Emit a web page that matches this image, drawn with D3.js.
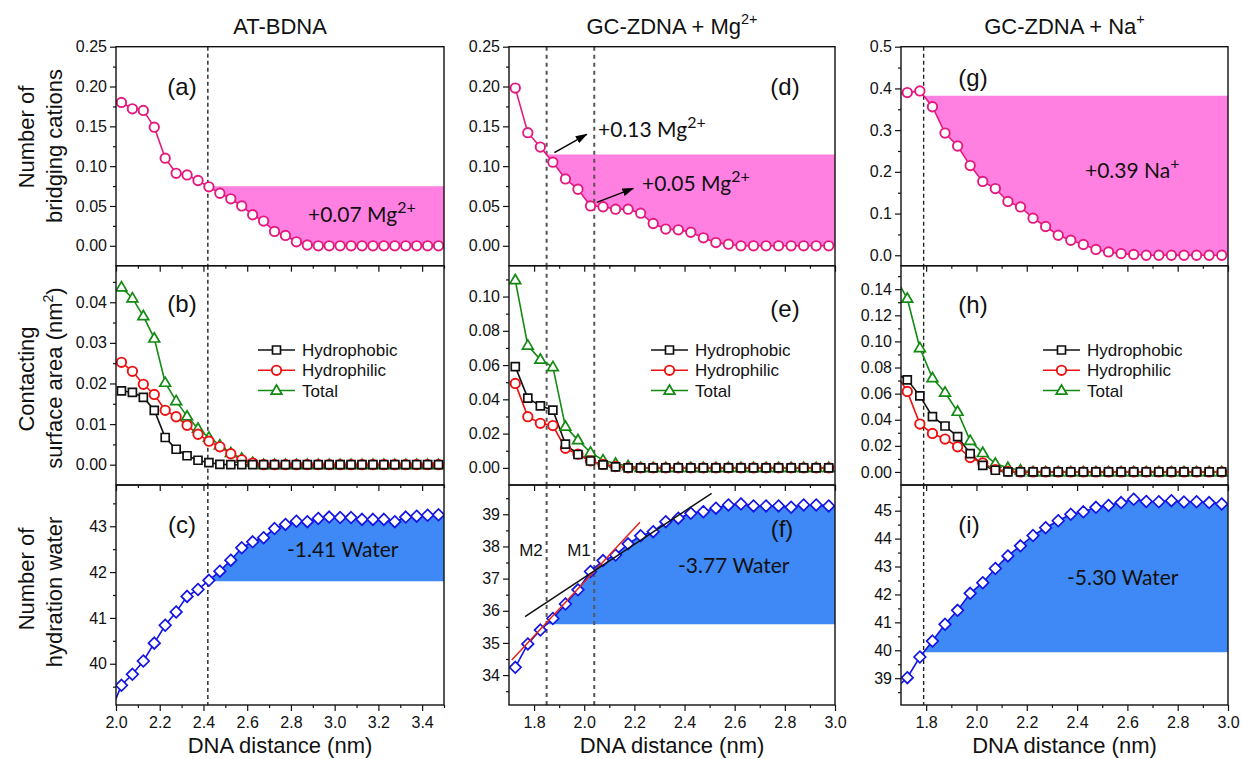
<!DOCTYPE html>
<html>
<head>
<meta charset="utf-8">
<script src="https://cdn.jsdelivr.net/npm/d3@7"></script>
<style>
  body { margin: 0; background: #fff; }
  svg text { font-family: "Liberation Sans", Arial, sans-serif; fill: #111; }
  .note { font-family: Lato, "Liberation Sans", sans-serif; }
</style>
</head>
<body>
<script>
//----------------------------------------------------------------------------------------------------------------------
// DATA. First entry of each x list sits just left of the frame and gets clipped.
//----------------------------------------------------------------------------------------------------------------------

var distAT = [1.975, 2.025, 2.075, 2.125, 2.175, 2.225, 2.275, 2.325, 2.375, 2.425, 2.475, 2.525, 2.575, 2.625,
  2.675, 2.725, 2.775, 2.825, 2.875, 2.925, 2.975, 3.025, 3.075, 3.125, 3.175, 3.225, 3.275, 3.325, 3.375, 3.425, 3.475];
var distGC = [1.675, 1.725, 1.775, 1.825, 1.875, 1.925, 1.975, 2.025, 2.075, 2.125, 2.175, 2.225, 2.275, 2.325,
  2.375, 2.425, 2.475, 2.525, 2.575, 2.625, 2.675, 2.725, 2.775, 2.825, 2.875, 2.925, 2.975];

// AT-BDNA
var bridgeAT = [0.184, 0.180, 0.172, 0.170, 0.149, 0.110, 0.091, 0.089, 0.082, 0.074, 0.066, 0.059, 0.050, 0.039,
  0.031, 0.018, 0.013, 0.005, 0.001, 0, 0, 0, 0, 0, 0, 0, 0, 0, 0, 0, 0];
var phobicAT = [null, 0.0182, 0.0178, 0.0166, 0.0134, 0.0067, 0.0038, 0.0022, 0.0011, 0.0005, 0.0001, 0, 0, 0, 0,
  0, 0, 0, 0, 0, 0, 0, 0, 0, 0, 0, 0, 0, 0, 0, 0];
var philicAT = [null, 0.0252, 0.0230, 0.0198, 0.0173, 0.0134, 0.0118, 0.0097, 0.0075, 0.0058, 0.0044, 0.0027, 0.0012,
  0.0004, 0, 0, 0, 0, 0, 0, 0, 0, 0, 0, 0, 0, 0, 0, 0, 0, 0];
var totalAT = [null, 0.0437, 0.0410, 0.0366, 0.0311, 0.0202, 0.0157, 0.0119, 0.0089, 0.0067, 0.0048, 0.0029, 0.0015,
  0.0005, 0, 0, 0, 0, 0, 0, 0, 0, 0, 0, 0, 0, 0, 0, 0, 0, 0];
var waterAT = [38.95, 39.53, 39.77, 40.06, 40.45, 40.84, 41.13, 41.47, 41.62, 41.82, 42.02, 42.26, 42.53, 42.66, 42.75,
  42.95, 43.04, 43.11, 43.10, 43.17, 43.20, 43.19, 43.19, 43.15, 43.15, 43.15, 43.10, 43.20, 43.22, 43.24, 43.25];

// GC-ZDNA + Mg2+
var bridgeMg = [null, 0.198, 0.142, 0.124, 0.105, 0.084, 0.071, 0.050, 0.049, 0.046, 0.046, 0.041, 0.028, 0.021,
  0.020, 0.017, 0.010, 0.004, 0.002, 0, 0, 0, 0, 0, 0, 0, 0];
var phobicMg = [null, 0.0591, 0.0407, 0.0362, 0.0337, 0.0139, 0.0078, 0.0040, 0.0018, 0.0006, 0, 0, 0, 0, 0, 0, 0,
  0, 0, 0, 0, 0, 0, 0, 0, 0, 0];
var philicMg = [null, 0.0493, 0.0299, 0.0260, 0.0247, 0.0114, 0.0080, 0.0041, 0.0020, 0.0008, 0, 0, 0, 0, 0, 0, 0,
  0, 0, 0, 0, 0, 0, 0, 0, 0, 0];
var totalMg = [null, 0.1096, 0.0714, 0.0632, 0.0589, 0.0241, 0.0162, 0.0090, 0.0045, 0.0025, 0.0010, 0, 0, 0, 0, 0,
  0, 0, 0, 0, 0, 0, 0, 0, 0, 0, 0];
var waterMg = [null, 34.24, 34.97, 35.40, 35.76, 36.21, 36.65, 37.22, 37.56, 37.73, 38.08, 38.33, 38.46, 38.77, 38.88,
  39.03, 39.08, 39.19, 39.29, 39.32, 39.26, 39.26, 39.26, 39.22, 39.29, 39.29, 39.26];
var fitRed = [[1.711, 34.47], [2.222, 38.75]];
var fitBlack = [[1.764, 35.82], [2.508, 39.65]];

// GC-ZDNA + Na+
var bridgeNa = [0.388, 0.390, 0.394, 0.356, 0.293, 0.262, 0.215, 0.177, 0.160, 0.129, 0.116, 0.089, 0.069, 0.048,
  0.036, 0.026, 0.014, 0.008, 0.004, 0.002, 0, 0, 0, 0, 0, 0, 0];
var phobicNa = [0.076, 0.0706, 0.0583, 0.0424, 0.0352, 0.0270, 0.0141, 0.0051, 0.0013, 0, 0, 0, 0, 0, 0, 0, 0, 0, 0,
  0, 0, 0, 0, 0, 0, 0, 0];
var philicNa = [0.077, 0.0617, 0.0367, 0.0295, 0.0252, 0.0193, 0.0110, 0.0069, 0.0018, 0.0005, 0, 0, 0, 0, 0, 0, 0,
  0, 0, 0, 0, 0, 0, 0, 0, 0, 0];
var totalNa = [0.150, 0.1328, 0.0950, 0.0719, 0.0609, 0.0462, 0.0239, 0.0146, 0.0064, 0.0031, 0.0013, 0, 0, 0, 0, 0,
  0, 0, 0, 0, 0, 0, 0, 0, 0, 0, 0];
var waterNa = [38.6, 39.02, 39.76, 40.33, 40.93, 41.43, 42.04, 42.42, 42.93, 43.38, 43.74, 44.11, 44.39, 44.64, 44.87,
  44.96, 45.12, 45.19, 45.29, 45.41, 45.33, 45.32, 45.36, 45.31, 45.32, 45.29, 45.24];

// dashed markers (nm)
var dashAT = [2.42];
var dashMg = [1.85, 2.04];
var dashNa = [1.79];

// ticks
var xTicksAT = [2.0, 2.2, 2.4, 2.6, 2.8, 3.0, 3.2, 3.4];
var xTicksGC = [1.8, 2.0, 2.2, 2.4, 2.6, 2.8, 3.0];
var yTicksA = [0, 0.05, 0.10, 0.15, 0.20, 0.25];
var yTicksG = [0, 0.1, 0.2, 0.3, 0.4, 0.5];
var yTicksB = [0, 0.01, 0.02, 0.03, 0.04];
var yTicksE = [0, 0.02, 0.04, 0.06, 0.08, 0.10];
var yTicksH = [0, 0.02, 0.04, 0.06, 0.08, 0.10, 0.12, 0.14];
var yTicksC = [40, 41, 42, 43];
var yTicksF = [34, 35, 36, 37, 38, 39];
var yTicksI = [39, 40, 41, 42, 43, 44, 45];

var titles = ["AT-BDNA", "GC-ZDNA + Mg", "GC-ZDNA + Na"];
var titleSup = ["", "2+", "+"];
var legendNames = ["Hydrophobic", "Hydrophilic", "Total"];

//----------------------------------------------------------------------------------------------------------------------
// LAYOUT
//----------------------------------------------------------------------------------------------------------------------

var width = 1242,
    height = 759;

var pink = "#e4197f", pinkFill = "#ff80e1", blue = "#1414e6", blueFill = "#3f89f6",
    green = "#138a13", red = "#ee1111", black = "#111111";

var cols = [
  { x0: 116, x1: 444, xd: [2.0, 3.5], ticks: xTicksAT, dist: distAT, dashes: dashAT, dash: ["#222", 1.4, "4,3"] },
  { x0: 509, x1: 835, xd: [1.7, 3.0], ticks: xTicksGC, dist: distGC, dashes: dashMg, dash: ["#555", 2, "4,4"] },
  { x0: 901, x1: 1228, xd: [1.7, 3.0], ticks: xTicksGC, dist: distGC, dashes: dashNa, dash: ["#222", 1.4, "4,3"] }
];
var rows = [{ y0: 46.7, y1: 265.7 }, { y0: 265.7, y1: 485 }, { y0: 485, y1: 705 }];

var panels = [
  { c: 0, r: 0, yd: [-0.025, 0.25], yt: yTicksA, fmt: ".2f", label: "(a)", lx: 182, ly: 95,
    series: [{ v: bridgeAT, kind: "circle", color: pink }], fill: { src: bridgeAT, color: pinkFill, x0: dashAT[0] } },
  { c: 0, r: 1, yd: [-0.005, 0.049], yt: yTicksB, fmt: ".2f", label: "(b)", lx: 182, ly: 312, legend: true,
    series: [{ v: phobicAT, kind: "square", color: black }, { v: philicAT, kind: "circle", color: red },
             { v: totalAT, kind: "triangle", color: green }] },
  { c: 0, r: 2, yd: [39.1, 43.9], yt: yTicksC, fmt: "d", label: "(c)", lx: 182, ly: 533,
    series: [{ v: waterAT, kind: "diamond", color: blue }], fill: { src: waterAT, color: blueFill, x0: dashAT[0] } },
  { c: 1, r: 0, yd: [-0.025, 0.25], yt: yTicksA, fmt: ".2f", label: "(d)", lx: 785, ly: 95,
    series: [{ v: bridgeMg, kind: "circle", color: pink }], fill: { src: bridgeMg, color: pinkFill, x0: dashMg[0] } },
  { c: 1, r: 1, yd: [-0.01, 0.118], yt: yTicksE, fmt: ".2f", label: "(e)", lx: 785, ly: 317, legend: true,
    series: [{ v: phobicMg, kind: "square", color: black }, { v: philicMg, kind: "circle", color: red },
             { v: totalMg, kind: "triangle", color: green }] },
  { c: 1, r: 2, yd: [33.07, 39.91], yt: yTicksF, fmt: "d", label: "(f)", lx: 782, ly: 537,
    series: [{ v: waterMg, kind: "diamond", color: blue }], fill: { src: waterMg, color: blueFill, x0: dashMg[0] } },
  { c: 2, r: 0, yd: [-0.025, 0.5], yt: yTicksG, fmt: ".1f", label: "(g)", lx: 973, ly: 86,
    series: [{ v: bridgeNa, kind: "circle", color: pink }], fill: { src: bridgeNa, color: pinkFill, x0: dashNa[0] } },
  { c: 2, r: 1, yd: [-0.01, 0.158], yt: yTicksH, fmt: ".2f", label: "(h)", lx: 973, ly: 313, legend: true,
    series: [{ v: phobicNa, kind: "square", color: black }, { v: philicNa, kind: "circle", color: red },
             { v: totalNa, kind: "triangle", color: green }] },
  { c: 2, r: 2, yd: [38.04, 45.92], yt: yTicksI, fmt: "d", label: "(i)", lx: 969, ly: 533,
    series: [{ v: waterNa, kind: "diamond", color: blue }], fill: { src: waterNa, color: blueFill, x0: dashNa[0] } }
];

var svg = d3.select("body").append("svg")
  .attr("width", width)
  .attr("height", height);

var defs = svg.append("defs");
defs.append("marker")
  .attr("id", "arrow")
  .attr("viewBox", "0 0 12 8")
  .attr("refX", 11).attr("refY", 4)
  .attr("markerWidth", 8).attr("markerHeight", 5.4)
  .attr("orient", "auto")
  .append("path").attr("d", "M0,0 L12,4 L0,8 Z").attr("fill", "#000");

function minorOf(major, dom) {
  var step = major[1] - major[0], out = [];
  [major[0] - step].concat(major).forEach(function(m) {
    var v = m + step / 2;
    if (v > dom[0] + 1e-9 && v < dom[1] + 1e-9) out.push(v);
  });
  return out;
}

function drawMarkers(g, pts, kind, color, xs, ys) {
  var sel = g.selectAll(null).data(pts).enter();
  if (kind === "circle") {
    sel.append("circle")
      .attr("cx", function(d) { return xs(d.x); })
      .attr("cy", function(d) { return ys(d.y); })
      .attr("r", 4.7)
      .style("fill", "#fff").style("stroke", color).style("stroke-width", 1.9);
  } else {
    var path = kind === "square" ? "M-4,-4H4V4H-4Z"
      : kind === "triangle" ? "M0,-5.6L5.4,3.6H-5.4Z"
      : "M0,-5.8L5.8,0L0,5.8L-5.8,0Z";
    sel.append("path")
      .attr("d", path)
      .attr("transform", function(d) { return "translate(" + xs(d.x) + "," + ys(d.y) + ")"; })
      .style("fill", "#fff").style("stroke", color).style("stroke-width", 1.7);
  }
}

var scales = {};

panels.forEach(function(p, idx) {
  var col = cols[p.c], row = rows[p.r];
  var x = d3.scaleLinear().domain(col.xd).range([col.x0, col.x1]);
  var y = d3.scaleLinear().domain(p.yd).range([row.y1, row.y0]);
  scales[p.label] = { x: x, y: y };

  var clipId = "clip" + idx;
  defs.append("clipPath").attr("id", clipId)
    .append("rect").attr("x", col.x0).attr("y", row.y0)
    .attr("width", col.x1 - col.x0).attr("height", row.y1 - row.y0);

  var g = svg.append("g").attr("clip-path", "url(#" + clipId + ")");

  // shaded difference
  if (p.fill) {
    var xs = col.dist, vs = p.fill.src, x0 = p.fill.x0, pts = [], level = null;
    for (var i = 0; i < xs.length - 1; i++) {
      if (vs[i] != null && xs[i] < x0 && xs[i + 1] >= x0) {
        level = vs[i] + (vs[i + 1] - vs[i]) * (x0 - xs[i]) / (xs[i + 1] - xs[i]);
        pts.push({ x: x0, y: level });
      }
      if (xs[i + 1] >= x0) pts.push({ x: xs[i + 1], y: vs[i + 1] });
    }
    pts.push({ x: col.xd[1], y: vs[vs.length - 1] });
    g.append("path")
      .datum(pts)
      .attr("d", d3.area().x(function(d) { return x(d.x); }).y0(y(level)).y1(function(d) { return y(d.y); }))
      .style("fill", p.fill.color);
  }

  // dashed guides
  col.dashes.forEach(function(dx) {
    g.append("line")
      .attr("x1", x(dx)).attr("x2", x(dx)).attr("y1", row.y0).attr("y2", row.y1)
      .style("stroke", col.dash[0]).style("stroke-width", col.dash[1]).style("stroke-dasharray", col.dash[2]);
  });

  p.series.forEach(function(s) {
    var pts = col.dist.map(function(d, i) { return { x: d, y: s.v[i] }; })
      .filter(function(d) { return d.y != null; });
    g.append("path")
      .datum(pts)
      .attr("d", d3.line().x(function(d) { return x(d.x); }).y(function(d) { return y(d.y); }))
      .style("fill", "none").style("stroke", s.color).style("stroke-width", 1.6);
  });
  p.series.slice().reverse().forEach(function(s) {
    var pts = col.dist.map(function(d, i) { return { x: d, y: s.v[i] }; })
      .filter(function(d) { return d.y != null; });
    drawMarkers(g, pts, s.kind, s.color, x, y);
  });

  // frame
  svg.append("rect")
    .attr("x", col.x0).attr("y", row.y0)
    .attr("width", col.x1 - col.x0).attr("height", row.y1 - row.y0)
    .style("fill", "none").style("stroke", "#111").style("stroke-width", 1.4);

  // y axis
  var ya = svg.append("g").attr("transform", "translate(" + col.x0 + ",0)");
  ya.call(d3.axisLeft(y).tickValues(p.yt).tickSize(6).tickPadding(3).tickFormat(d3.format(p.fmt)));
  ya.append("g").call(d3.axisLeft(y).tickValues(minorOf(p.yt, p.yd)).tickSize(3).tickFormat(""));
  ya.selectAll(".domain").remove();

  // x axis
  var xa = svg.append("g").attr("transform", "translate(0," + row.y1 + ")");
  xa.call(d3.axisBottom(x).tickValues(col.ticks).tickSize(6).tickPadding(6)
    .tickFormat(p.r === 2 ? d3.format(".1f") : ""));
  xa.append("g").call(d3.axisBottom(x).tickValues(minorOf(col.ticks, col.xd)).tickSize(3).tickFormat(""));
  xa.selectAll(".domain").remove();

  [ya, xa].forEach(function(a) {
    a.selectAll("line").style("stroke", "#111").style("stroke-width", 1.2);
    a.selectAll("text").style("font-size", "16px").style("font-family", "'Liberation Sans', Arial, sans-serif")
      .style("fill", "#111");
  });

  svg.append("text")
    .attr("x", p.lx).attr("y", p.ly)
    .attr("text-anchor", "middle")
    .style("font-size", "24px")
    .text(p.label);

  if (p.legend) {
    var lx0 = col.x0 + 142, ly0 = 350;
    p.series.forEach(function(s, i) {
      var ly = ly0 + i * 20.3;
      var lg = svg.append("g");
      lg.append("line").attr("x1", lx0).attr("x2", lx0 + 37).attr("y1", ly).attr("y2", ly)
        .style("stroke", s.color).style("stroke-width", 1.5);
      drawMarkers(lg, [{ x: lx0 + 18.5, y: ly }], s.kind, s.color, function(v) { return v; }, function(v) { return v; });
      lg.append("text").attr("x", lx0 + 44).attr("y", ly + 6).style("font-size", "17px").text(legendNames[i]);
    });
  }
});

//----------------------------------------------------------------------------------------------------------------------
// fit lines + arrows in the Mg column
//----------------------------------------------------------------------------------------------------------------------

var sf = scales["(f)"];
[[fitRed, "#e3231b"], [fitBlack, "#111"]].forEach(function(f) {
  svg.append("line")
    .attr("x1", sf.x(f[0][0][0])).attr("y1", sf.y(f[0][0][1]))
    .attr("x2", sf.x(f[0][1][0])).attr("y2", sf.y(f[0][1][1]))
    .style("stroke", f[1]).style("stroke-width", 1.5);
});

var sd = scales["(d)"];
var arrows = [[[1.881, 0.117], [2.010, 0.140]], [[2.050, 0.0545], [2.196, 0.0721]]];
arrows.forEach(function(a) {
  svg.append("line")
    .attr("x1", sd.x(a[0][0])).attr("y1", sd.y(a[0][1]))
    .attr("x2", sd.x(a[1][0])).attr("y2", sd.y(a[1][1]))
    .attr("marker-end", "url(#arrow)")
    .style("stroke", "#000").style("stroke-width", 1.5);
});

//----------------------------------------------------------------------------------------------------------------------
// text
//----------------------------------------------------------------------------------------------------------------------

function supText(x, y, main, sup, size, cls, supScale) {
  var t = svg.append("text").attr("x", x).attr("y", y).style("font-size", size + "px");
  if (cls) t.attr("class", cls);
  t.append("tspan").text(main);
  if (sup) t.append("tspan").attr("dy", -size * 0.45).style("font-size", (size * (supScale || 0.66)) + "px").text(sup);
  return t;
}

cols.forEach(function(col, i) {
  supText((col.x0 + col.x1) / 2, 34, titles[i], titleSup[i], 22).attr("text-anchor", "middle");
  svg.append("text")
    .attr("x", (col.x0 + col.x1) / 2).attr("y", 753)
    .attr("text-anchor", "middle")
    .style("font-size", "22px")
    .text("DNA distance (nm)");
});

var yTitles = [
  { lines: ["Number of", "bridging cations"], cy: [137, 146] },
  { lines: ["Contacting", "surface area (nm"], cy: [379, 378] },
  { lines: ["Number of", "hydration water"], cy: [579, 592] }
];
yTitles.forEach(function(t, r) {
  t.lines.forEach(function(line, k) {
    var bx = k === 0 ? 34 : 62;
    var tx = svg.append("text")
      .attr("transform", "translate(" + bx + "," + t.cy[k] + ") rotate(-90)")
      .attr("text-anchor", "middle")
      .style("font-size", "22px");
    tx.append("tspan").text(line);
    if (r === 1 && k === 1) {
      tx.append("tspan").attr("dy", -9).style("font-size", "14px").text("2");
      tx.append("tspan").attr("dy", 9).text(")");
    }
  });
});

supText(308, 222, "+0.07 Mg", "2+", 21, "note", 0.76);
supText(598, 137, "+0.13 Mg", "2+", 21, "note", 0.76);
supText(642, 191, "+0.05 Mg", "2+", 21, "note", 0.76);
supText(1085, 178, "+0.39 Na", "+", 21, "note", 0.76);
supText(287, 557, "-1.41 Water", "", 21, "note");
supText(678, 573, "-3.77 Water", "", 21, "note");
supText(1067, 585, "-5.30 Water", "", 21, "note");

svg.append("text").attr("x", 531).attr("y", 556).attr("text-anchor", "middle").style("font-size", "17px").text("M2");
svg.append("text").attr("x", 579).attr("y", 556).attr("text-anchor", "middle").style("font-size", "17px").text("M1");
</script>
</body>
</html>
